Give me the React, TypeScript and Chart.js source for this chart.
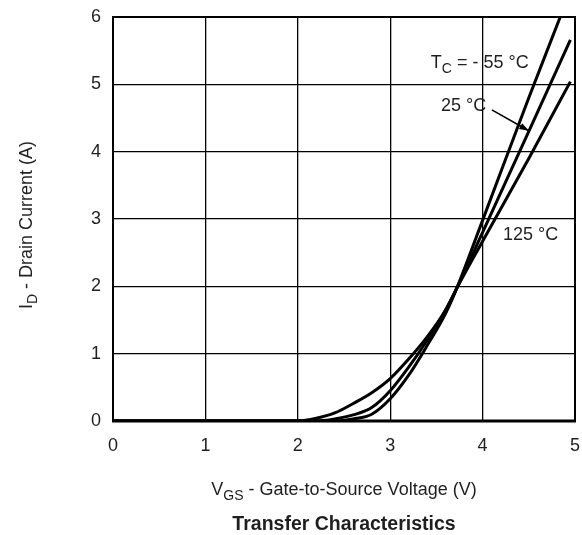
import React, { useEffect, useRef } from "react";
import { Chart, registerables } from "chart.js";

Chart.register(...registerables);

// Transfer characteristics: I_D (A) vs V_GS (V)
const vgsMinus55 = [0, 2.4, 2.6, 2.8, 3.0, 3.2, 3.4, 3.6, 3.72, 4.0, 4.5, 4.84];
const idMinus55 = [0, 0, 0.03, 0.1, 0.33, 0.68, 1.12, 1.6, 1.97, 2.98, 4.8, 6.0];

const vgs25 = [0, 2.2, 2.4, 2.6, 2.8, 3.0, 3.2, 3.4, 3.6, 3.72, 4.0, 4.5, 4.95];
const id25 = [0, 0, 0.03, 0.09, 0.2, 0.45, 0.8, 1.2, 1.65, 1.97, 2.8, 4.3, 5.66];

const vgs125 = [0, 2.0, 2.2, 2.4, 2.6, 2.8, 3.0, 3.2, 3.4, 3.6, 3.72, 4.0, 4.5, 4.95];
const id125 = [0, 0, 0.04, 0.12, 0.26, 0.42, 0.63, 0.92, 1.25, 1.65, 1.97, 2.67, 3.9, 5.04];

const xTicks = [0, 1, 2, 3, 4, 5];
const yTicks = [0, 1, 2, 3, 4, 5, 6];

const FONT = "'Liberation Sans', Arial, Helvetica, sans-serif";
const TEXT = "#1f1f1f";

function toPoints(xs: number[], ys: number[]) {
  return xs.map((x, i) => ({ x, y: ys[i] }));
}

function drawSub(
  ctx: CanvasRenderingContext2D,
  parts: { t: string; sub?: boolean }[],
  x: number,
  y: number,
  size: number,
  align: "left" | "center"
) {
  const subSize = Math.round(size * 0.75);
  let total = 0;
  for (const p of parts) {
    ctx.font = `${p.sub ? subSize : size}px ${FONT}`;
    total += ctx.measureText(p.t).width;
  }
  let cx = align === "center" ? x - total / 2 : x;
  ctx.textAlign = "left";
  ctx.textBaseline = "alphabetic";
  for (const p of parts) {
    ctx.font = `${p.sub ? subSize : size}px ${FONT}`;
    ctx.fillText(p.t, cx, p.sub ? y + size * 0.26 : y);
    cx += ctx.measureText(p.t).width;
  }
}

const textPlugin = {
  id: "textPlugin",
  afterDraw(chart: any) {
    const ctx = chart.ctx as CanvasRenderingContext2D;
    const xs = chart.scales.x;
    const ys = chart.scales.y;
    const area = chart.chartArea;
    ctx.save();
    ctx.fillStyle = TEXT;
    // curve labels
    drawSub(ctx, [{ t: "T" }, { t: "C", sub: true }, { t: " = - 55 °C" }], xs.getPixelForValue(3.44), ys.getPixelForValue(5.24), 18, "left");
    drawSub(ctx, [{ t: "25 °C" }], xs.getPixelForValue(3.55), ys.getPixelForValue(4.6), 18, "left");
    drawSub(ctx, [{ t: "125 °C" }], xs.getPixelForValue(4.22), ys.getPixelForValue(2.69), 18, "left");
    // arrow
    const x1 = xs.getPixelForValue(4.1), y1 = ys.getPixelForValue(4.62);
    const x2 = xs.getPixelForValue(4.5), y2 = ys.getPixelForValue(4.31);
    ctx.strokeStyle = "#000";
    ctx.lineWidth = 1.6;
    ctx.beginPath();
    ctx.moveTo(x1, y1);
    ctx.lineTo(x2, y2);
    ctx.stroke();
    const ang = Math.atan2(y2 - y1, x2 - x1);
    ctx.fillStyle = "#000";
    ctx.beginPath();
    ctx.moveTo(x2, y2);
    ctx.lineTo(x2 - 10 * Math.cos(ang - 0.33), y2 - 10 * Math.sin(ang - 0.33));
    ctx.lineTo(x2 - 10 * Math.cos(ang + 0.33), y2 - 10 * Math.sin(ang + 0.33));
    ctx.closePath();
    ctx.fill();
    // axis titles
    ctx.fillStyle = TEXT;
    const cxm = (area.left + area.right) / 2;
    drawSub(ctx, [{ t: "V" }, { t: "GS", sub: true }, { t: " - Gate-to-Source Voltage (V)" }], cxm, 495, 18, "center");
    ctx.font = `bold 19.5px ${FONT}`;
    ctx.textAlign = "center";
    ctx.textBaseline = "alphabetic";
    ctx.fillText("Transfer Characteristics", cxm, 530);
    ctx.save();
    ctx.translate(32, 225);
    ctx.rotate(-Math.PI / 2);
    drawSub(ctx, [{ t: "I" }, { t: "D", sub: true }, { t: " - Drain Current (A)" }], 0, 0, 18, "center");
    ctx.restore();
    // frame
    ctx.strokeStyle = "#000";
    ctx.lineWidth = 2;
    ctx.strokeRect(area.left, area.top, area.right - area.left, area.bottom - area.top);
    ctx.lineWidth = 3;
    ctx.beginPath();
    ctx.moveTo(area.left - 1, area.bottom);
    ctx.lineTo(area.right + 1, area.bottom);
    ctx.stroke();
    ctx.restore();
  },
};

export default function App() {
  const ref = useRef<HTMLCanvasElement | null>(null);
  useEffect(() => {
    if (!ref.current) return;
    const lineStyle = {
      borderColor: "#000",
      borderWidth: 3,
      pointRadius: 0,
      fill: false,
      cubicInterpolationMode: "monotone" as const,
      borderCapStyle: "butt" as const,
    };
    const chart = new Chart(ref.current, {
      type: "line",
      data: {
        datasets: [
          { label: "-55 °C", data: toPoints(vgsMinus55, idMinus55), ...lineStyle },
          { label: "25 °C", data: toPoints(vgs25, id25), ...lineStyle },
          { label: "125 °C", data: toPoints(vgs125, id125), ...lineStyle },
        ],
      },
      options: {
        animation: false,
        responsive: false,
        devicePixelRatio: 1,
        layout: { padding: { top: 17, right: 7, left: 0, bottom: 0 } },
        plugins: { legend: { display: false }, tooltip: { enabled: false } },
        scales: {
          x: {
            type: "linear",
            min: 0,
            max: 5,
            afterBuildTicks: (s: any) => {
              s.ticks = xTicks.map((v) => ({ value: v }));
            },
            afterFit: (s: any) => {
              s.height = 114;
              s.paddingLeft = 0;
              s.paddingRight = 0;
            },
            grid: { color: "#000", lineWidth: 1.3, drawTicks: false },
            border: { display: false },
            ticks: { color: TEXT, font: { family: FONT, size: 18 }, padding: 14, maxRotation: 0 },
          },
          y: {
            type: "linear",
            min: 0,
            max: 6,
            afterBuildTicks: (s: any) => {
              s.ticks = yTicks.map((v) => ({ value: v }));
            },
            afterFit: (s: any) => {
              s.width = 113;
              s.paddingTop = 0;
              s.paddingBottom = 0;
            },
            grid: { color: "#000", lineWidth: 1.3, drawTicks: false },
            border: { display: false },
            ticks: { color: TEXT, font: { family: FONT, size: 18 }, padding: 12 },
          },
        },
      },
      plugins: [textPlugin],
    });
    return () => chart.destroy();
  }, []);
  return (
    <div style={{ position: "absolute", left: 0, top: 0, width: 582, height: 535, background: "#fff" }}>
      <canvas ref={ref} width={582} height={535} style={{ width: 582, height: 535, display: "block" }} />
    </div>
  );
}
